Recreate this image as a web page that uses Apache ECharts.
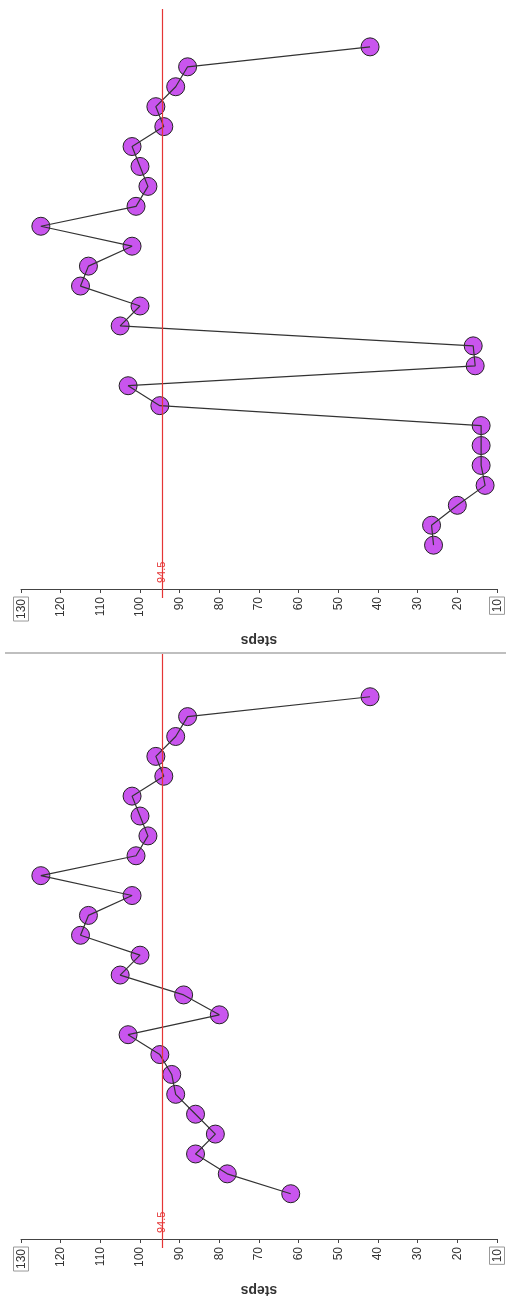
<!DOCTYPE html>
<html>
<head>
<meta charset="utf-8">
<script src="https://cdn.jsdelivr.net/npm/echarts@6/dist/echarts.min.js"></script>
<style>
  html, body { margin: 0; padding: 0; background: #fff; }
  #chart { width: 506px; height: 1298px; }
</style>
</head>
<body>
<div id="chart"></div>
<script>
// steps per run, top panel and bottom panel (read top to bottom)
var stepsTop = [42, 88, 91, 96, 94, 102, 100, 98, 101, 125, 102, 113, 115, 100, 105, 16, 15.5, 103, 95, 14, 14, 14, 13, 20, 26.5, 26];
var stepsBottom = [42, 88, 91, 96, 94, 102, 100, 98, 101, 125, 102, 113, 115, 100, 105, 89, 80, 103, 95, 92, 91, 86, 81, 86, 78, 62];
var refValue = 94.5;
var refLabel = '94.5';
var axisMin = 10;
var axisMax = 130;
var axisStep = 10;
var axisName = 'steps';

var fontFamily = '"Liberation Sans", Arial, sans-serif';
var pointColor = '#C955EE';
var refColor = '#E53535';

// small crossbar at the foot of the reference line
var barSymbol = 'path://M0,0 M8,8 M0,3.4 L8,3.4 L8,4.8 L0,4.8 Z';

// the grid reaches 9px below the axis so the red line can poke through it
var tail = 9;

function toPoints(arr) {
  return arr.map(function (v, i) { return [v, i]; });
}

function makeX(gridIndex) {
  return {
    gridIndex: gridIndex,
    type: 'value',
    min: axisMin,
    max: axisMax,
    interval: axisStep,
    inverse: true,
    position: 'bottom',
    offset: -tail,
    splitLine: { show: false },
    axisLine: { show: true, onZero: false, lineStyle: { color: '#444', width: 1 } },
    axisTick: { show: true, length: 4, lineStyle: { color: '#444', width: 1 } },
    axisLabel: {
      rotate: 90,
      margin: 8,
      fontSize: 12,
      fontFamily: fontFamily,
      color: '#333',
      formatter: function (v) {
        if (v === axisMin || v === axisMax) return '{b|' + v + '}';
        return String(v);
      },
      rich: {
        b: {
          fontSize: 12,
          fontFamily: fontFamily,
          color: '#333',
          borderColor: '#999',
          borderWidth: 1,
          padding: [2, 2, 1, 2]
        }
      }
    },
    name: axisName,
    nameLocation: 'middle',
    nameGap: 44,
    nameRotate: 180,
    nameTextStyle: { fontWeight: 'bold', fontSize: 14, fontFamily: fontFamily, color: '#333' }
  };
}

function makeY(gridIndex, yMin, yMax) {
  return { gridIndex: gridIndex, type: 'value', min: yMin, max: yMax, inverse: true, show: false };
}

function makeSeries(idx, arr, yMin, yMax) {
  var pts = toPoints(arr);
  return [{
    type: 'scatter',
    xAxisIndex: idx,
    yAxisIndex: idx,
    data: pts,
    symbolSize: 18,
    clip: false,
    z: 2,
    itemStyle: { color: pointColor, borderColor: '#222', borderWidth: 1, opacity: 1 },
    markLine: {
      silent: true,
      symbol: [barSymbol, 'none'],
      symbolSize: [8, 0],
      lineStyle: { color: refColor, width: 1.2, type: 'solid' },
      label: {
        show: true,
        formatter: refLabel,
        position: 'insideStart',
        verticalAlign: 'middle',
        distance: [15, 0],
        color: refColor,
        fontSize: 11,
        fontFamily: fontFamily
      },
      data: [[{ coord: [refValue, yMax] }, { coord: [refValue, yMin] }]]
    }
  }, {
    type: 'line',
    xAxisIndex: idx,
    yAxisIndex: idx,
    data: pts,
    symbol: 'none',
    clip: false,
    z: 3,
    lineStyle: { color: '#333', width: 1.2 }
  }];
}

// index range of each panel; the max includes the short tail below the axis
var topMin = -1.9, topMax = 27.65;
var botMin = -2.15, botMax = 27.73;

var chart = echarts.init(document.getElementById('chart'), null, { renderer: 'canvas' });
chart.setOption({
  backgroundColor: '#fff',
  animation: false,
  grid: [
    { left: 21, right: 9, top: 9, height: 580 + tail },
    { left: 21, right: 9, top: 654, height: 587 + tail }
  ],
  xAxis: [makeX(0), makeX(1)],
  yAxis: [makeY(0, topMin, topMax), makeY(1, botMin, botMax)],
  series: makeSeries(0, stepsTop, topMin, topMax).concat(makeSeries(1, stepsBottom, botMin, botMax)),
  graphic: [{
    type: 'line',
    shape: { x1: 5, y1: 653, x2: 506, y2: 653 },
    style: { stroke: '#aaa', lineWidth: 1.5 }
  }]
});
</script>
</body>
</html>
